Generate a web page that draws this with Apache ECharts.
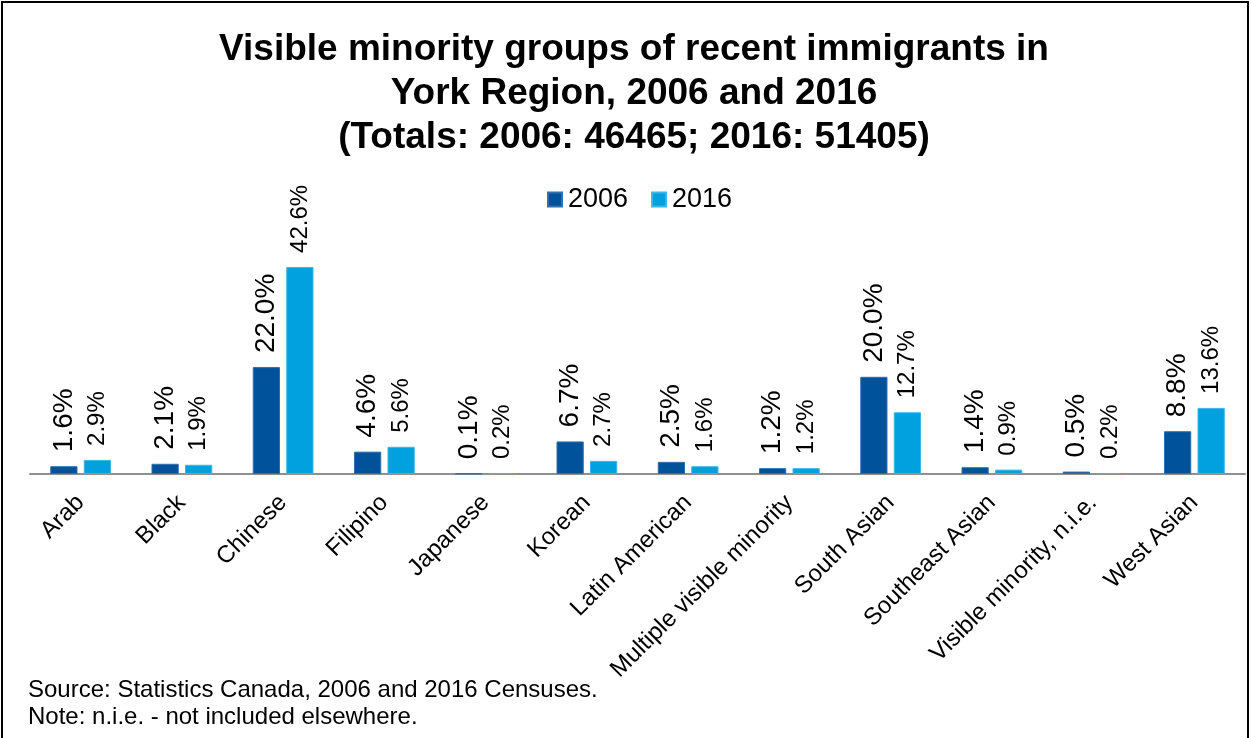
<!DOCTYPE html>
<html>
<head>
<meta charset="utf-8">
<script src="https://cdn.jsdelivr.net/npm/echarts@6/dist/echarts.min.js"></script>
<style>
  html, body { margin: 0; padding: 0; background: #fff; }
  #chart { width: 1251px; height: 738px; }
</style>
</head>
<body>
<div id="chart"></div>
<script>
// Visible minority groups of recent immigrants, shares in percent
const categories = [
  'Arab', 'Black', 'Chinese', 'Filipino', 'Japanese', 'Korean',
  'Latin American', 'Multiple visible minority', 'South Asian',
  'Southeast Asian', 'Visible minority, n.i.e.', 'West Asian'
];
const values2006 = [1.6, 2.1, 22.0, 4.6, 0.1, 6.7, 2.5, 1.2, 20.0, 1.4, 0.5, 8.8];
const values2016 = [2.9, 1.9, 42.6, 5.6, 0.2, 2.7, 1.6, 1.2, 12.7, 0.9, 0.2, 13.6];
const seriesNames = ['2006', '2016'];
const titleLines = [
  'Visible minority groups of recent immigrants in',
  'York Region, 2006 and 2016',
  '(Totals: 2006: 46465; 2016: 51405)'
];
const footnotes = [
  'Source: Statistics Canada, 2006 and 2016 Censuses.',
  'Note: n.i.e. - not included elsewhere.'
];

const FONT = '"Liberation Sans", Arial, Helvetica, sans-serif';
const chart = echarts.init(document.getElementById('chart'));

function pct(p) { return p.value.toFixed(1) + '%'; }

chart.setOption({
  backgroundColor: '#ffffff',
  animation: false,
  textStyle: { fontFamily: FONT },
  title: {
    text: titleLines.join('\n'),
    left: 634,
    textAlign: 'center',
    top: 28,
    padding: 0,
    textStyle: {
      fontFamily: FONT, fontSize: 37, fontWeight: 'bold',
      color: '#000', lineHeight: 44
    }
  },
  legend: {
    data: seriesNames,
    left: 547,
    top: 186,
    padding: 0,
    icon: 'rect',
    itemWidth: 14,
    itemHeight: 14,
    itemGap: 23,
    textStyle: { fontFamily: FONT, fontSize: 27, color: '#000', padding: [0, 0, 0, 1] }
  },
  grid: { left: 30, right: 6, top: 231, bottom: 264, containLabel: false },
  xAxis: {
    type: 'category',
    data: categories,
    axisTick: { show: false },
    axisLine: { lineStyle: { color: '#8f8f8f', width: 2 } },
    axisLabel: {
      interval: 0, rotate: 45, margin: 25,
      fontFamily: FONT, fontSize: 24, color: '#000'
    }
  },
  yAxis: {
    type: 'value',
    min: 0, max: 50,
    show: false,
    splitLine: { show: false }
  },
  series: [
    {
      name: seriesNames[0],
      type: 'bar',
      data: values2006,
      barGap: '23%',
      barCategoryGap: '40%',
      itemStyle: { color: '#00539b', borderColor: '#2f6fae', borderWidth: 1 },
      label: {
        show: true, position: 'top', rotate: 90, distance: 14,
        align: 'left', verticalAlign: 'middle',
        fontFamily: FONT, fontSize: 28, color: '#000',
        formatter: pct
      }
    },
    {
      name: seriesNames[1],
      type: 'bar',
      data: values2016,
      itemStyle: { color: '#00a1de', borderColor: '#3cb6e6', borderWidth: 1 },
      label: {
        show: true, position: 'top', rotate: 90, distance: 14,
        align: 'left', verticalAlign: 'middle',
        fontFamily: FONT, fontSize: 24, color: '#000',
        formatter: pct
      }
    }
  ],
  graphic: [
    {
      type: 'rect', silent: true, z: 100,
      shape: { x: 2, y: 2, width: 1246, height: 760 },
      style: { fill: 'none', stroke: '#000', lineWidth: 2 }
    },
    {
      type: 'text', left: 28, top: 678,
      style: { text: footnotes[0], fontFamily: FONT, fontSize: 24, fill: '#000' }
    },
    {
      type: 'text', left: 28, top: 705,
      style: { text: footnotes[1], fontFamily: FONT, fontSize: 24, fill: '#000' }
    }
  ]
});
</script>
</body>
</html>
